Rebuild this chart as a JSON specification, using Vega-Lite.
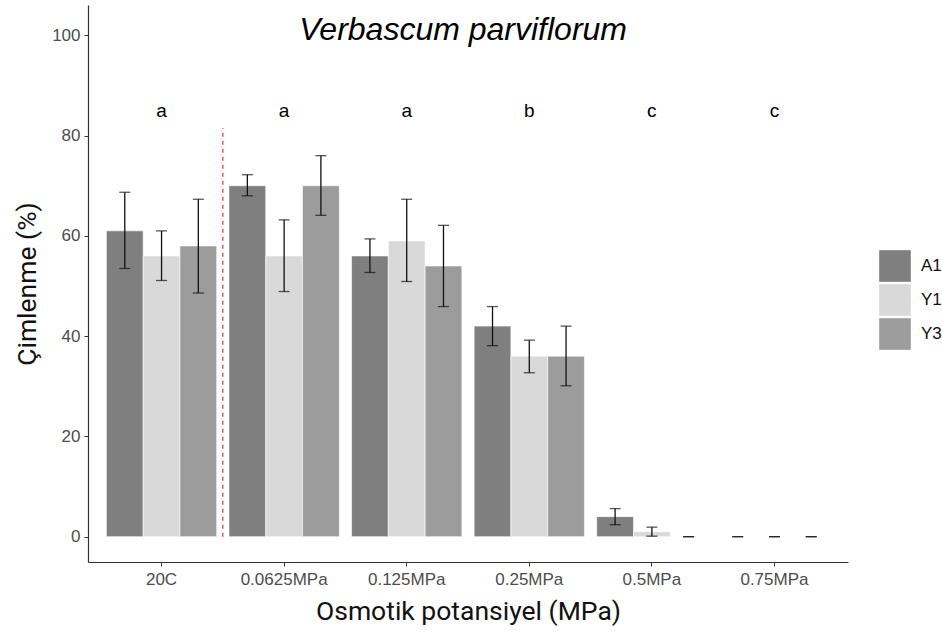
{
  "$schema": "https://vega.github.io/schema/vega-lite/v6.json",
  "autosize": {"type": "none"},
  "width": 760,
  "height": 557,
  "padding": {"left": 88, "top": 5, "right": 94, "bottom": 75},
  "background": "white",
  "config": {
    "view": {"stroke": null},
    "font": "Liberation Sans"
  },
  "datasets": {
    "bars": [
      {"group": "20C", "treat": "A1", "mean": 61, "lo": 53.5, "hi": 68.7},
      {"group": "20C", "treat": "Y1", "mean": 56, "lo": 51.1, "hi": 61.0},
      {"group": "20C", "treat": "Y3", "mean": 58, "lo": 48.6, "hi": 67.3},
      {"group": "0.0625MPa", "treat": "A1", "mean": 70, "lo": 68.0, "hi": 72.2},
      {"group": "0.0625MPa", "treat": "Y1", "mean": 56, "lo": 48.9, "hi": 63.2},
      {"group": "0.0625MPa", "treat": "Y3", "mean": 70, "lo": 64.1, "hi": 76.0},
      {"group": "0.125MPa", "treat": "A1", "mean": 56, "lo": 52.7, "hi": 59.4},
      {"group": "0.125MPa", "treat": "Y1", "mean": 59, "lo": 50.9, "hi": 67.3},
      {"group": "0.125MPa", "treat": "Y3", "mean": 54, "lo": 45.9, "hi": 62.1},
      {"group": "0.25MPa", "treat": "A1", "mean": 42, "lo": 38.1, "hi": 45.9},
      {"group": "0.25MPa", "treat": "Y1", "mean": 36, "lo": 32.7, "hi": 39.2},
      {"group": "0.25MPa", "treat": "Y3", "mean": 36, "lo": 30.1, "hi": 42.0},
      {"group": "0.5MPa", "treat": "A1", "mean": 4, "lo": 2.4, "hi": 5.6},
      {"group": "0.5MPa", "treat": "Y1", "mean": 1, "lo": 0.1, "hi": 1.9},
      {"group": "0.5MPa", "treat": "Y3", "mean": 0, "lo": 0, "hi": 0},
      {"group": "0.75MPa", "treat": "A1", "mean": 0, "lo": 0, "hi": 0},
      {"group": "0.75MPa", "treat": "Y1", "mean": 0, "lo": 0, "hi": 0},
      {"group": "0.75MPa", "treat": "Y3", "mean": 0, "lo": 0, "hi": 0}
    ],
    "letters": [
      {"group": "20C", "letter": "a", "y": 85},
      {"group": "0.0625MPa", "letter": "a", "y": 85},
      {"group": "0.125MPa", "letter": "a", "y": 85},
      {"group": "0.25MPa", "letter": "b", "y": 85},
      {"group": "0.5MPa", "letter": "c", "y": 85},
      {"group": "0.75MPa", "letter": "c", "y": 85}
    ]
  },
  "layer": [
    {
      "data": {"name": "bars"},
      "mark": {"type": "bar", "stroke": "white", "strokeWidth": 0.6},
      "encoding": {
        "x": {
          "field": "group", "type": "nominal",
          "scale": {"domain": ["20C", "0.0625MPa", "0.125MPa", "0.25MPa", "0.5MPa", "0.75MPa"], "paddingInner": 0.1, "paddingOuter": 0.15},
          "axis": {
            "title": "Osmotik potansiyel (MPa)",
            "titleFont": "Roboto", "titleFontSize": 26.5, "titleFontWeight": "normal", "titleColor": "#111111", "titlePadding": 11,
            "labelFont": "Liberation Sans", "labelFontSize": 17, "labelColor": "#4d4d4d", "labelAngle": 0, "labelPadding": 5,
            "domainColor": "#333333", "domainWidth": 1.2, "tickColor": "#333333", "tickSize": 4, "tickWidth": 1, "grid": false
          }
        },
        "xOffset": {"field": "treat", "type": "nominal", "scale": {"paddingInner": 0, "paddingOuter": 0}},
        "y": {
          "field": "mean", "type": "quantitative",
          "scale": {"domain": [-5.05, 106.05], "nice": false, "zero": false},
          "axis": {
            "title": "Çimlenme (%)",
            "values": [0, 20, 40, 60, 80, 100],
            "titleFont": "Roboto", "titleFontSize": 26.5, "titleFontWeight": "normal", "titleColor": "#111111", "titlePadding": 10,
            "labelFont": "Liberation Sans", "labelFontSize": 17, "labelColor": "#4d4d4d", "labelPadding": 4,
            "domainColor": "#333333", "domainWidth": 1.2, "tickColor": "#333333", "tickSize": 4, "tickWidth": 1, "grid": false
          }
        },
        "color": {
          "field": "treat", "type": "nominal",
          "scale": {"domain": ["A1", "Y1", "Y3"], "range": ["#7f7f7f", "#d9d9d9", "#9c9c9c"]},
          "legend": {
            "title": null, "orient": "none", "legendX": 791, "legendY": 245,
            "symbolType": "square", "symbolSize": 1000, "symbolStrokeWidth": 0, "symbolStrokeColor": "white",
            "labelFont": "Liberation Sans", "labelFontSize": 17, "labelColor": "#111111", "labelOffset": 10,
            "rowPadding": 2
          }
        }
      }
    },
    {
      "data": {"name": "bars"},
      "mark": {"type": "rule", "color": "#111111", "strokeWidth": 1.3},
      "encoding": {
        "x": {"field": "group", "type": "nominal"},
        "xOffset": {"field": "treat", "type": "nominal"},
        "y": {"field": "lo", "type": "quantitative"},
        "y2": {"field": "hi"}
      }
    },
    {
      "data": {"name": "bars"},
      "mark": {"type": "tick", "color": "#111111", "thickness": 1.3, "size": 11, "orient": "horizontal"},
      "encoding": {
        "x": {"field": "group", "type": "nominal"},
        "xOffset": {"field": "treat", "type": "nominal"},
        "y": {"field": "lo", "type": "quantitative"}
      }
    },
    {
      "data": {"name": "bars"},
      "mark": {"type": "tick", "color": "#111111", "thickness": 1.3, "size": 11, "orient": "horizontal"},
      "encoding": {
        "x": {"field": "group", "type": "nominal"},
        "xOffset": {"field": "treat", "type": "nominal"},
        "y": {"field": "hi", "type": "quantitative"}
      }
    },
    {
      "data": {"name": "letters"},
      "mark": {"type": "text", "font": "Liberation Sans", "fontSize": 19, "fontWeight": 500, "color": "#000000", "baseline": "middle"},
      "encoding": {
        "x": {"field": "group", "type": "nominal"},
        "y": {"field": "y", "type": "quantitative"},
        "text": {"field": "letter"}
      }
    },
    {
      "data": {"values": [{}]},
      "mark": {"type": "rule", "color": "#e8191c", "strokeWidth": 1.1, "strokeDash": [4, 4]},
      "encoding": {
        "x": {"datum": "0.0625MPa", "type": "nominal", "bandPosition": -0.0556},
        "y": {"datum": 0, "type": "quantitative"},
        "y2": {"datum": 81.5}
      }
    },
    {
      "data": {"values": [{}]},
      "mark": {"type": "text", "font": "Liberation Sans", "fontStyle": "italic", "fontSize": 32, "color": "#000000", "baseline": "middle", "align": "center"},
      "encoding": {
        "x": {"datum": "0.25MPa", "type": "nominal", "bandPosition": -0.1},
        "y": {"datum": 101, "type": "quantitative"},
        "text": {"value": "Verbascum parviflorum"}
      }
    }
  ]
}
